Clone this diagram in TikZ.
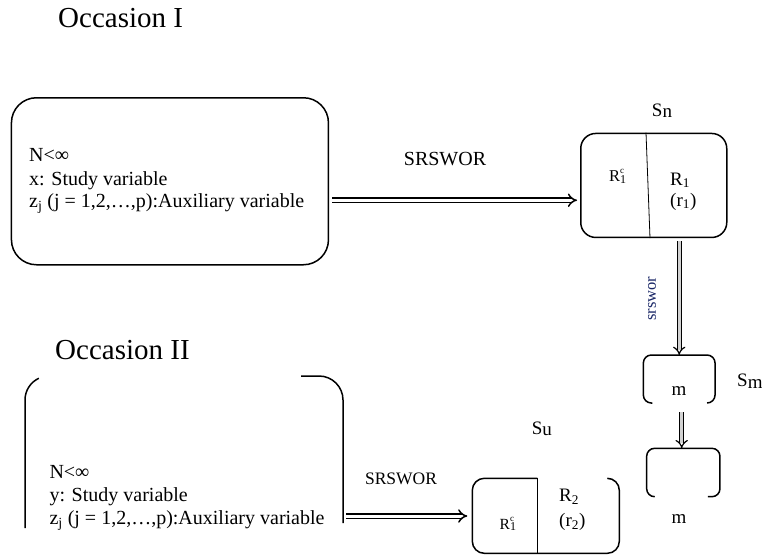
\documentclass[tikz,border=0pt]{standalone}
\usepackage{fontspec}
\setmainfont{Liberation Serif}
\usetikzlibrary{arrows.meta}

% R_1 with a stacked complement mark (small c above a lowered 1)
\newcommand{\Rcomp}{R\makebox[0pt][l]{\raisebox{0.47em}{\fontsize{9}{9}\selectfont c}}\raisebox{-1.5pt}{\fontsize{12}{12}\selectfont 1}}
% sample labels: letter with a slightly lowered companion letter
\newcommand{\samp}[1]{S\raisebox{-1.5pt}{#1}}

\definecolor{navytext}{rgb}{0.10,0.15,0.40}

\tikzset{
  x=1pt, y=1pt,
  bx/.style={line width=1.5pt},
  divider/.style={line width=0.8pt},
  ghost/.style={draw=none, inner sep=0pt, outer sep=0pt},
  body/.style={font=\fontsize{20}{23}\selectfont, inner sep=0pt, anchor=base west},
  lab/.style={font=\fontsize{19}{22}\selectfont, inner sep=0pt},
  occ/.style={font=\fontsize{29}{33}\selectfont, inner sep=0pt, anchor=base west},
  dbl/.style={double, double distance=3pt, line width=1.5pt, -{Implies}},
  vdbl/.style={double=gray!35, double distance=3pt, line width=1.2pt, -{Implies}},
}

\begin{document}
\begin{tikzpicture}
\useasboundingbox (0,0) rectangle (762,-555);

% ---------- Occasion I ----------
\node[occ] (occ1) at (58,-27) {Occasion I};

\node[draw, bx, rounded corners=25pt, minimum width=317pt, minimum height=167pt,
      anchor=north west, inner sep=0pt] (pop1) at (10.7,-97) {};
\node[body] (p1a) at (29,-161.7) {N<∞};
\node[body] (p1b) at (29,-185) {x: Study variable};
\node[body] (p1c) at (29,-207.5) {z\textsubscript{j} (j = 1,2,…,p):Auxiliary variable};

% first-occasion sample s_n
\node[draw, bx, rounded corners=15pt, minimum width=146pt, minimum height=104pt,
      anchor=north west, inner sep=0pt] (Sn) at (580,-132.7) {};
\draw[divider] ([xshift=66pt]Sn.north west) -- ([xshift=70pt]Sn.south west);
\node[lab, anchor=base] (snlab) at (662,-116) {\samp{n}};
\node[lab, anchor=base west, font=\fontsize{16.5}{20}\selectfont] (rc1) at (609,-181.7) {\Rcomp};
\node[lab, anchor=base west] (r1) at (670,-185) {R\textsubscript{1}};
\node[lab, anchor=base west] (r1s) at (670,-206) {(r\textsubscript{1})};

% SRSWOR from population to s_n
\path ([xshift=3pt,yshift=-19pt]pop1.east) coordinate (a1s);
\draw[dbl, shorten >=3pt] (a1s) -- (a1s -| Sn.west);
\node[lab, anchor=base, font=\fontsize{20}{24}\selectfont] (srs1) at (445,-165) {SRSWOR};

% matched sample s_m
\node[ghost, minimum width=71.7pt, minimum height=48pt] (Sm) at (679.2,-379) {};
\draw[bx, rounded corners=8pt]
  ([xshift=9pt]Sm.south west) -- (Sm.south west) -- (Sm.north west)
  -- (Sm.north east) -- (Sm.south east) -- ([xshift=-8pt]Sm.south east);
\node[lab, anchor=base] (m1) at (679,-395) {m};
\node[lab, anchor=base west] (smlab) at (737,-386.7) {\samp{m}};

\draw[vdbl, shorten <=3pt] (Sm.north |- Sn.south) -- (Sm.north);
\node[rotate=90, font=\fontsize{16.5}{18}\selectfont, text=navytext, inner sep=0pt]
  (srs0) at (652,-298.5) {srswor};

% matched part on the second occasion
\node[ghost, minimum width=73.3pt, minimum height=48.4pt] (Sm2) at (683.3,-472.5) {};
\draw[bx, rounded corners=8pt]
  ([xshift=7pt]Sm2.south west) -- (Sm2.south west) -- (Sm2.north west)
  -- (Sm2.north east) -- (Sm2.south east) -- ([xshift=-12pt]Sm2.south east);
\node[lab, anchor=base] (m2) at (679,-523) {m};

\path ([xshift=2.5pt]Sm.south) coordinate (a3s);
\draw[vdbl, shorten <=9pt] (a3s) -- (a3s |- Sm2.north);

% ---------- Occasion II ----------
\node[occ] (occ2) at (55,-359) {Occasion II};

\node[ghost, minimum width=318pt, minimum height=152pt] (pop2) at (184,-452) {};
\draw[bx] (pop2.south west) -- ([yshift=-24pt]pop2.north west)
  arc[start angle=180, end angle=115, radius=24pt];
\draw[bx] ([yshift=5pt]pop2.south east) -- ([yshift=-24pt]pop2.north east)
  arc[start angle=0, end angle=90, radius=24pt] -- ++(-18,0);
\node[body] (p2a) at (49.3,-478) {N<∞};
\node[body] (p2b) at (49.3,-501.7) {y: Study variable};
\node[body] (p2c) at (49.3,-524.5) {z\textsubscript{j} (j = 1,2,…,p):Auxiliary variable};

% unmatched sample s_u
\node[ghost, minimum width=147pt, minimum height=75pt] (Su) at (545.8,-515.8) {};
\draw[bx, rounded corners=12pt]
  ([xshift=65pt]Su.north west) -- (Su.north west) -- (Su.south west)
  -- (Su.south east) -- (Su.north east) -- ([xshift=-12pt]Su.north east);
\draw[divider] ([xshift=65pt]Su.north west) -- ([xshift=65pt]Su.south west);
\node[lab, anchor=base west] (sulab) at (531.7,-434) {\samp{u}};
\node[lab, anchor=base west, font=\fontsize{15.5}{18}\selectfont] (rc2) at (499.5,-529) {\Rcomp};
\node[lab, anchor=base west] (r2) at (559,-501.7) {R\textsubscript{2}};
\node[lab, anchor=base west] (r2s) at (559,-526.7) {(r\textsubscript{2})};

\path (pop2.east) ++(3,-64) coordinate (a2s);
\draw[dbl, shorten >=5pt] (a2s) -- (a2s -| Su.west);
\node[lab, anchor=base, font=\fontsize{17.5}{21}\selectfont] (srs2) at (401,-484) {SRSWOR};
\end{tikzpicture}
\end{document}
